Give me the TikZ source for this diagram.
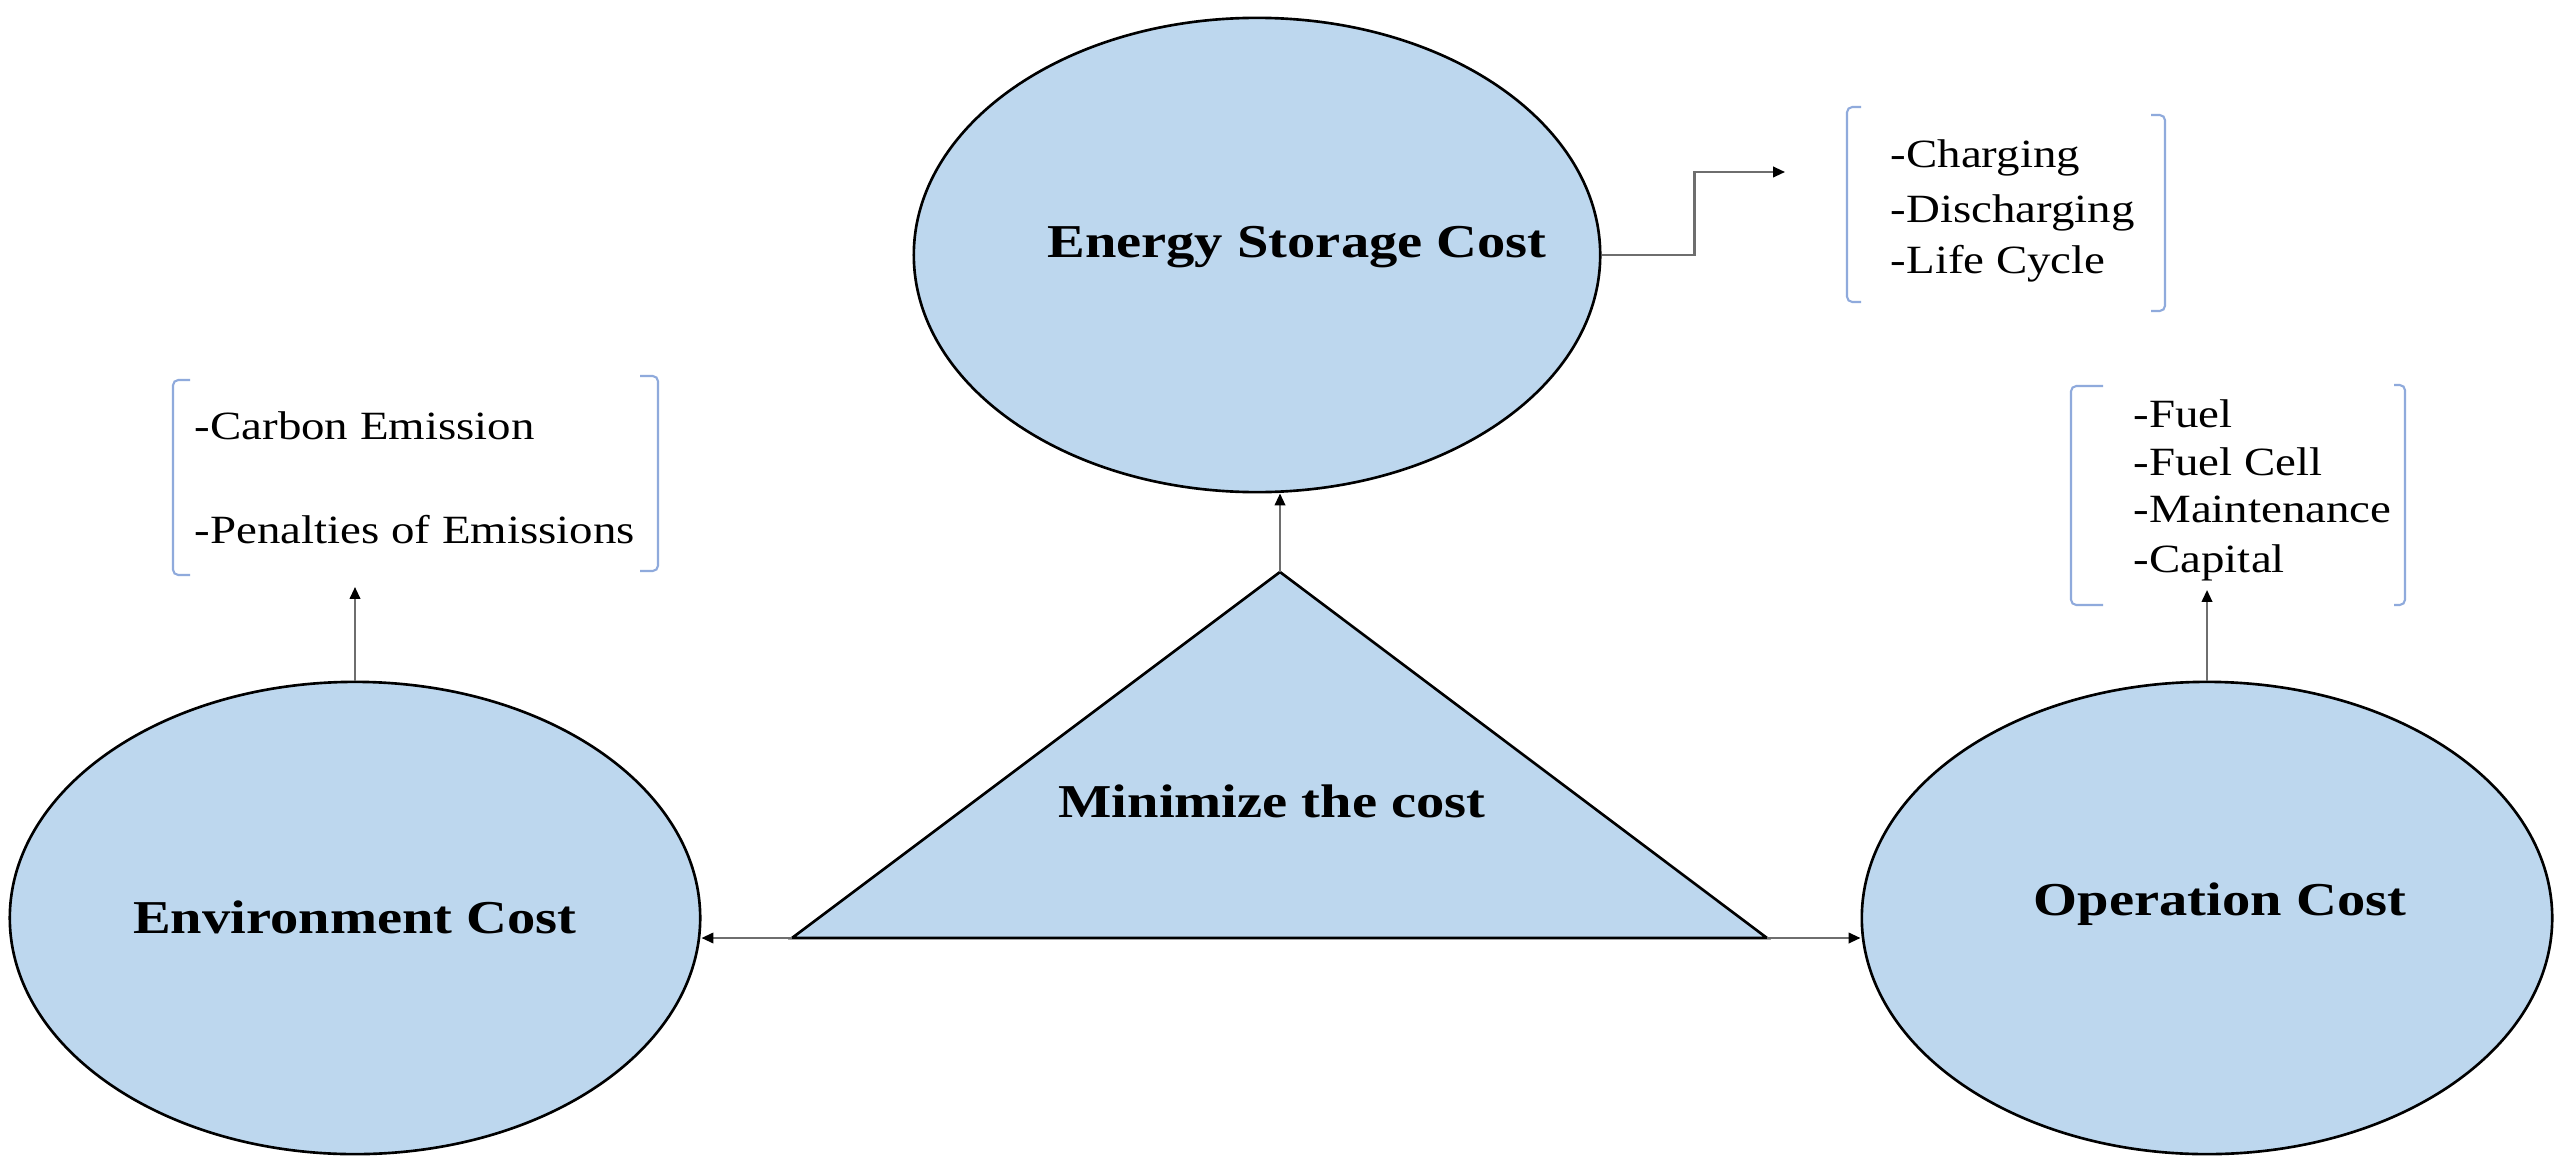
\documentclass[tikz,border=0pt]{standalone}
\usepackage{fontspec}
\setmainfont{Liberation Serif}
\newfontface\lblfont[FakeStretch=1.2]{Liberation Serif Bold}
\newfontface\lstfont[FakeStretch=1.17]{Liberation Serif}
\usetikzlibrary{shapes.geometric,arrows.meta}
\definecolor{fillblue}{HTML}{BDD7EE}
\definecolor{brk}{HTML}{8FAADC}
\definecolor{connc}{HTML}{6E6E6E}
\begin{document}
\begin{tikzpicture}[x=0.01cm,y=-0.01cm,
  costnode/.style={ellipse,draw=black,line width=0.75pt,fill=fillblue,inner sep=0pt},
  lbl/.style={anchor=base,inner sep=0pt,font=\lblfont\fontsize{13.4}{16}\selectfont},
  item/.style={anchor=base west,inner sep=0pt,font=\lstfont\fontsize{11.4}{13}\selectfont},
  bracket/.style={draw=brk,line width=0.6pt,rounded corners=1.5pt},
  conn/.style={draw=connc,line width=0.6pt,-{Triangle[length=3.4pt,width=3pt,color=black]}},
]
\fill[white] (0,0) rectangle (2567,1176);
\useasboundingbox (0,0) rectangle (2567,1176);

% cost ellipses
\node[costnode,minimum width=6.9cm,minimum height=4.72cm] (env) at (355,918) {};
\node[costnode,minimum width=6.9cm,minimum height=4.72cm] (op) at (2207,918) {};
\node[costnode,minimum width=6.86cm,minimum height=4.74cm] (es) at (1257,255) {};

% triangle
\coordinate (apex) at (1280,572);
\coordinate (bl) at (792,938);
\coordinate (br) at (1767,938);
\draw[fill=fillblue,line width=0.75pt,line join=miter] (apex) -- (bl) -- (br) -- cycle;

% labels
\node[lbl] (esl) at (1297,258) {Energy Storage Cost};
\node[lbl] (envl) at (355,933) {Environment Cost};
\node[lbl] (opl) at (2220,915) {Operation Cost};
\node[lbl] (tril) at (1272,817) {Minimize the cost};

% list items
\node[item] (c1) at (1890,168) {-Charging};
\node[item] (c2) at (1890,222) {-Discharging};
\node[item] (c3) at (1890,273) {-Life Cycle};
\node[item] (e1) at (194,439) {-Carbon Emission};
\node[item] (e2) at (194,543) {-Penalties of Emissions};
\node[item] (o1) at (2133,427) {-Fuel};
\node[item] (o2) at (2133,475) {-Fuel Cell};
\node[item] (o3) at (2133,522) {-Maintenance};
\node[item] (o4) at (2133,572) {-Capital};

% brackets
\draw[bracket] (190,380) -- (173,380) -- (173,575) -- (190,575);
\draw[bracket] (640,376) -- (658,376) -- (658,571) -- (640,571);
\draw[bracket] (1861,107) -- (1847,107) -- (1847,302) -- (1861,302);
\draw[bracket] (2151,115) -- (2165,115) -- (2165,311) -- (2151,311);
\draw[bracket] (2103,386) -- (2071,386) -- (2071,605) -- (2103,605);
\draw[bracket] (2394,385) -- (2405,385) -- (2405,605) -- (2394,605);

% connectors
\coordinate (envtip) at (355,587);
\coordinate (optip) at (2207,590);
\coordinate (estip) at (1785,172);
\draw[conn] (env.north) -- (envtip);
\draw[conn] (op.north) -- (optip);
\draw[conn] (es.east) -- ++(93,0) |- (estip);
\draw[conn] (apex) -- (apex |- es.south);
\draw[conn] (bl) -- (bl -| env.east);
\draw[conn] (br) -- (br -| op.west);
\end{tikzpicture}
\end{document}
